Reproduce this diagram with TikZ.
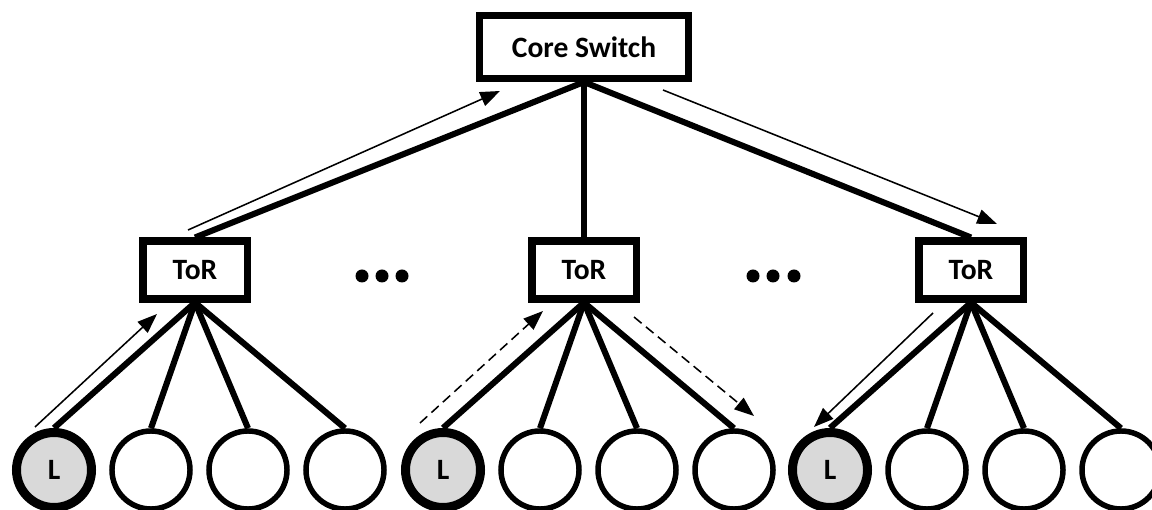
\documentclass[tikz,border=0pt]{standalone}
\usepackage{fontspec}
\setmainfont{Carlito}
\usetikzlibrary{arrows.meta}
\definecolor{leafgray}{HTML}{D9D9D9}
\begin{document}
\begin{tikzpicture}[x=0.025cm, y=-0.025cm,
                    switchbox/.style={draw, line width=5pt, inner sep=0pt, font=\fontsize{21}{25}\selectfont\bfseries},
                    corebox/.style={switchbox, minimum width=5.225cm, minimum height=1.575cm},
                    torbox/.style={switchbox, minimum width=2.6cm, minimum height=1.45cm},
                    host/.style={draw, circle, line width=3.9pt, minimum size=1.95cm, inner sep=0pt},
                    leader/.style={host, line width=6.4pt, minimum size=1.875cm, fill=leafgray, font=\fontsize{21}{25}\selectfont\bfseries},
                    ellip/.style={circle, fill, inner sep=0pt, minimum size=0.325cm},
                    link/.style={line width=4.3pt},
                    flow/.style={line width=1.1pt, -{Triangle[length=14pt, width=10.5pt]}}
                    ]
                    \useasboundingbox (0,0) rectangle (1152,510);

                    \node[corebox] (core) at (584,47) {Core Switch};
                    \node[torbox] (torA) at (195,270) {ToR};
                    \node[torbox] (torB) at (584,270) {ToR};
                    \node[torbox] (torC) at (971,270) {ToR};

                    \foreach \x [count=\k] in {362,382,402}{
                        \node[ellip] (dotA\k) at (\x,276) {};
                    }
                    \foreach \x [count=\k] in {753,773,794}{
                        \node[ellip] (dotB\k) at (\x,276) {};
                    }

                    % hosts under each ToR, the first one is the leader
                    \foreach \g/\t in {a/195,b/584,c/971}{
                        \node[leader] (\g1) at (\t-141,470) {L};
                        \node[host] (\g2) at (\t-44,470) {};
                        \node[host] (\g3) at (\t+53,470) {};
                        \node[host] (\g4) at (\t+150,470) {};
                    }

                    \foreach \i in {torA,torB,torC}{
                        \draw[link] (core.south) -- (\i.north);
                    }
                    \foreach \i/\g in {torA/a,torB/b,torC/c}{
                        \foreach \k in {1,...,4}{
                            \draw[link] (\i.south) -- (\g\k.north);
                        }
                    }

                    % traffic path
                    \coordinate (p1) at (35,427);
                    \coordinate (p2) at (157,314);
                    \coordinate (p3) at (188,230);
                    \coordinate (p4) at (500,91);
                    \coordinate (p5) at (663,90);
                    \coordinate (p6) at (997,224);
                    \coordinate (p7) at (933,313);
                    \coordinate (p8) at (814,427);
                    \coordinate (q1) at (420,423);
                    \coordinate (q2) at (543,311);
                    \coordinate (q3) at (634,317);
                    \coordinate (q4) at (754,416);

                    \foreach \s/\e in {p1/p2,p3/p4,p5/p6,p7/p8}{
                        \draw[flow] (\s) -- (\e);
                    }
                    \foreach \s/\e in {q1/q2,q3/q4}{
                        \draw[flow, dash pattern=on 7pt off 4pt] (\s) -- (\e);
                    }
                \end{tikzpicture}
\end{document}
